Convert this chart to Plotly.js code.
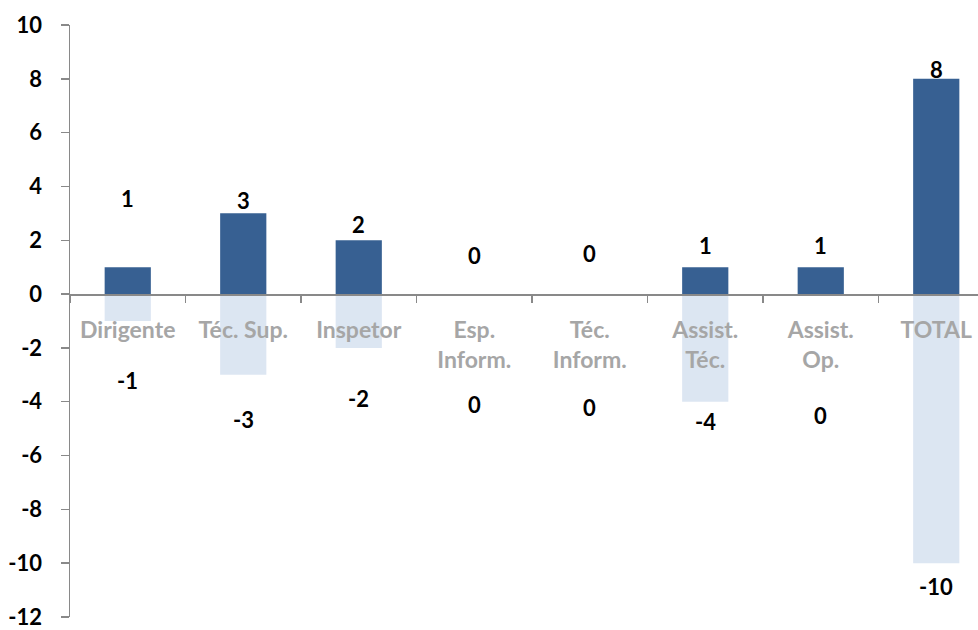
<!DOCTYPE html>
<html>
<head>
<meta charset="utf-8">
<script src="https://cdn.plot.ly/plotly-3.0.1.min.js"></script>
<style>
  html, body { margin: 0; padding: 0; background: #ffffff; }
  #chart { width: 978px; height: 630px; }
</style>
</head>
<body>
<div id="chart"></div>
<script>
// Categories and their axis labels
const categories = ['Dirigente', 'Téc. Sup.', 'Inspetor', 'Esp. Inform.', 'Téc. Inform.', 'Assist. Téc.', 'Assist. Op.', 'TOTAL'];
const tickLabels = ['Dirigente', 'Téc. Sup.', 'Inspetor', 'Esp.<br>Inform.', 'Téc.<br>Inform.', 'Assist.<br>Téc.', 'Assist.<br>Op.', 'TOTAL'];

// Entries (positive) and exits (negative) per category
const entradas = [1, 3, 2, 0, 0, 1, 1, 8];
const saidas = [-1, -3, -2, 0, 0, -4, 0, -10];

// Value axis ticks
const yTickVals = [-12, -10, -8, -6, -4, -2, 0, 2, 4, 6, 8, 10];
const yTickText = ['-12', '-10', '-8', '-6', '-4', '-2', '0', '2', '4', '6', '8', '10'];

// Label offsets from the bar ends, in pixels
const posLabelShift = [69, 13, 16, 39, 41, 22, 22, 9];
const negLabelShift = [-59, -45, -51, -110, -113, -20, -121, -23];

const FONT = 'Lato, "Open Sans", "Liberation Sans", sans-serif';
const DARK = '#376092';
const LIGHT = '#DCE6F2';
const AXIS = '#898989';

const traces = [
  {
    type: 'bar', x: categories, y: saidas, width: 0.4,
    marker: { color: LIGHT }, hoverinfo: 'x+y', showlegend: false
  },
  {
    type: 'bar', x: categories, y: entradas, width: 0.4,
    marker: { color: DARK }, hoverinfo: 'x+y', showlegend: false
  }
];

const labelFont = { family: FONT, size: 22, color: '#000000', weight: 'bold' };
const annotations = [];
categories.forEach((c, i) => {
  annotations.push({
    x: c, y: entradas[i], xref: 'x', yref: 'y', text: String(entradas[i]),
    showarrow: false, yanchor: 'middle', yshift: posLabelShift[i], font: labelFont
  });
  annotations.push({
    x: c, y: saidas[i], xref: 'x', yref: 'y', text: String(saidas[i]),
    showarrow: false, yanchor: 'middle', yshift: negLabelShift[i], font: labelFont
  });
});

const yMin = -12, yMax = 10;

const layout = {
  width: 978, height: 630,
  margin: { l: 70, r: 0, t: 25, b: 13, pad: 0 },
  paper_bgcolor: '#ffffff', plot_bgcolor: '#ffffff',
  barmode: 'relative',
  font: { family: FONT, weight: 'bold' },
  xaxis: {
    type: 'category',
    range: [-0.5, 7.3615],
    tickmode: 'array', tickvals: categories, ticktext: tickLabels,
    anchor: 'free', position: (0 - yMin) / (yMax - yMin),
    showline: true, linecolor: AXIS, linewidth: 1.5,
    ticks: 'outside', tickson: 'boundaries', ticklen: 7, tickcolor: AXIS, tickwidth: 1.5,
    tickangle: 0,
    tickfont: { family: FONT, size: 23, color: '#A6A6A6', weight: 'bold' },
    ticklabelstandoff: 15,
    showgrid: false, zeroline: false, fixedrange: true
  },
  yaxis: {
    range: [yMin, yMax],
    tickmode: 'array', tickvals: yTickVals, ticktext: yTickText,
    showline: true, linecolor: AXIS, linewidth: 1.5,
    ticks: 'outside', ticklen: 8, tickcolor: AXIS, tickwidth: 1.5,
    tickfont: { family: FONT, size: 22, color: '#000000', weight: 'bold' },
    ticklabelstandoff: 14,
    ticklabeloverflow: 'allow',
    showgrid: false, zeroline: false, fixedrange: true
  },
  annotations: annotations
};

Plotly.newPlot('chart', traces, layout, { displayModeBar: false, staticPlot: true });
</script>
</body>
</html>
